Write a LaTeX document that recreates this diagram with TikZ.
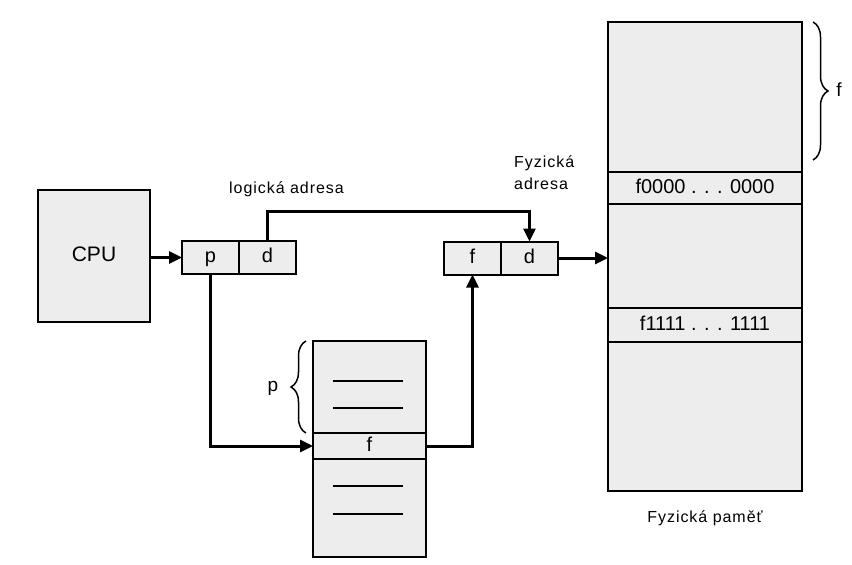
\documentclass[tikz,border=0pt]{standalone}
\usepackage{fontspec}
\setmainfont{Liberation Sans}
\usetikzlibrary{positioning,arrows.meta,decorations.pathreplacing}
\definecolor{boxgray}{RGB}{237,237,237}

\begin{document}
\begin{tikzpicture}[x=1pt,y=-1pt,
    box/.style={draw, line width=2pt, fill=boxgray, inner sep=0pt, outer sep=0pt, text height=14.5pt, text depth=4pt, font=\fontsize{20}{24}\selectfont},
    cell/.style={box, minimum width=57pt, minimum height=33pt},
    conn/.style={line width=3pt, -{Triangle[length=13pt,width=12pt]}},
    addrtext/.style={inner sep=0pt, font=\fontsize{16}{22}\selectfont\addfontfeature{LetterSpace=6}},
    entry/.style={line width=1.5pt},
    bracket/.style={decorate, decoration={brace, amplitude=15pt}, line width=1.5pt}]
    \useasboundingbox (0,0) rectangle (852,565);

    % Nodes
    \node[box, minimum width=112pt, minimum height=132pt, font=\fontsize{21}{25}\selectfont] (cpu) at (94,256) {CPU};
    \node[cell] (lp) at (210.5,257.5) {p};
    \node[cell, right=0pt of lp] (ld) {d};
    \node[cell] (pf) at (472.5,258) {f};
    \node[cell, right=0pt of pf] (pd) {d};

    % page table
    \node[box, minimum width=113pt, minimum height=92pt, anchor=north] (ptop) at (369.5,341) {};
    \node[box, minimum width=113pt, minimum height=26pt, below=0pt of ptop] (pfrow) {f};
    \node[box, minimum width=113pt, minimum height=98pt, below=0pt of pfrow] (pbot) {};
    \foreach \yy in {381,408,486,514}
        \draw[entry] (333,\yy) -- (403,\yy);

    % physical memory
    \node[box, minimum width=194pt, minimum height=150pt, anchor=north] (mtop) at (705,22) {};
    \node[box, minimum width=194pt, minimum height=32pt, below=0pt of mtop] (mlow) {f0000 . . . 0000};
    \node[box, minimum width=194pt, minimum height=104pt, below=0pt of mlow] (mmid) {};
    \node[box, minimum width=194pt, minimum height=34pt, below=0pt of mmid] (mhigh) {f1111 . . . 1111};
    \node[box, minimum width=194pt, minimum height=149pt, below=0pt of mhigh] (mbot) {};

    % Labels
    \node[addrtext, anchor=base] (ladr) at (286.5,193) {logická adresa};
    \node[addrtext, align=left, anchor=north west] (fadr) at (514,156) {Fyzická\\adresa};
    \node[addrtext, anchor=base] (mem) at (705,522) {Fyzická paměť};

    % Braces
    \draw[bracket] (306,433) -- (306,341);
    \node[addrtext, font=\fontsize{19}{22}\selectfont] (pbrace) at (273,388) {p};
    \draw[bracket] (813,22) -- (813,160);
    \node[addrtext, font=\fontsize{19}{22}\selectfont] (fbrace) at (839,90) {f};

    % Arrows
    \draw[conn] (cpu.east |- lp.west) -- (lp.west);
    \draw[conn] (ld.north) -- ++(0,-30) -| (pd.north);
    \draw[conn] (lp.south) |- (pfrow.west);
    \draw[conn] (pfrow.east) -| (pf.south);
    \draw[conn] (pd.east) -- (pd.east -| mmid.west);

\end{tikzpicture}
\end{document}
